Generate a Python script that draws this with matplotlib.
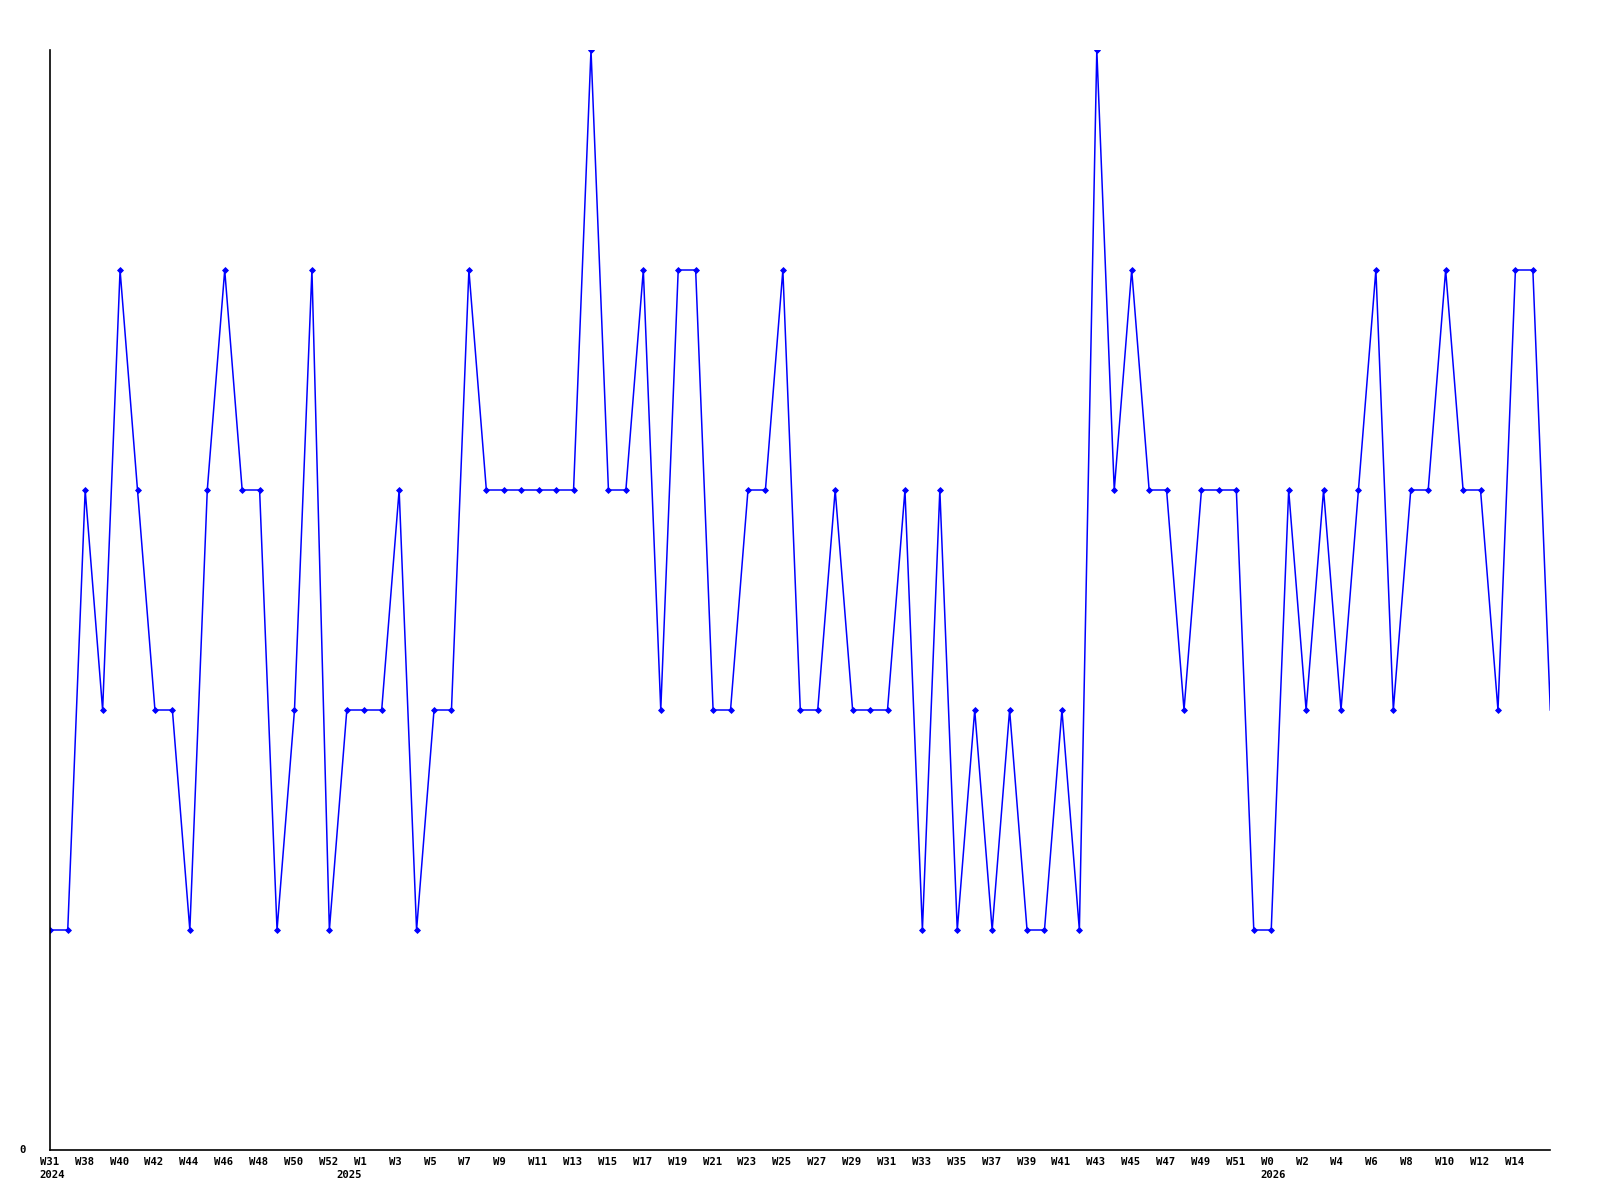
import matplotlib
matplotlib.use("Agg")
import matplotlib.pyplot as plt
import matplotlib.transforms as mtransforms
import numpy as np

# valeurs hebdomadaires (une par point)
valeurs = [1, 1, 3, 2, 4, 3, 2, 2, 1, 3,
           4, 3, 3, 1, 2, 4, 1, 2, 2, 2,
           3, 1, 2, 2, 4, 3, 3, 3, 3, 3,
           3, 5, 3, 3, 4, 2, 4, 4, 2, 2,
           3, 3, 4, 2, 2, 3, 2, 2, 2, 3,
           1, 3, 1, 2, 1, 2, 1, 1, 2, 1,
           5, 3, 4, 3, 3, 2, 3, 3, 3, 1,
           1, 3, 2, 3, 2, 3, 4, 2, 3, 3,
           4, 3, 3, 2, 4, 4, 2]

# etiquettes de l'axe des x (une semaine sur deux)
etiquettes = ["W31", "W38", "W40", "W42", "W44", "W46", "W48", "W50", "W52", "W1",
              "W3", "W5", "W7", "W9", "W11", "W13", "W15", "W17", "W19", "W21",
              "W23", "W25", "W27", "W29", "W31", "W33", "W35", "W37", "W39", "W41",
              "W43", "W45", "W47", "W49", "W51", "W0", "W2", "W4", "W6", "W8",
              "W10", "W12", "W14"]

annees = ["2024", "2025", "2026"]
idx_annees = [0, 17, 70]

x = np.arange(len(valeurs))
idx_etiquettes = x[::2][:len(etiquettes)]

fig = plt.figure(figsize=(16, 12), dpi=100)
ax = fig.add_axes([50.3 / 1600, 50 / 1200, 1500 / 1600, 1100 / 1200])

bleu = (0, 0, 1)
ax.plot(x, valeurs, color=bleu, linewidth=1.1)
# pas de marqueur sur le dernier point
ax.plot(x[:-1], valeurs[:-1], linestyle="none", marker="D", markersize=3.0,
        color=bleu, markeredgewidth=0.6)

ax.set_xlim(0, len(valeurs) - 1)
ax.set_ylim(0, 5)

for cote in ["top", "right"]:
    ax.spines[cote].set_visible(False)
ax.spines["left"].set_linewidth(1.2)
ax.spines["bottom"].set_linewidth(1.2)

ax.set_xticks([])
ax.set_yticks([])

police = dict(family="DejaVu Sans Mono", fontweight="bold", fontsize=7.7, color="black")

# texte aligne a gauche, decale d'environ 10 px vers la gauche du point
trans = mtransforms.blended_transform_factory(ax.transData, ax.transAxes)
trans = mtransforms.offset_copy(trans, fig=fig, x=-10.5, y=0, units="dots")
for p, e in zip(idx_etiquettes, etiquettes):
    ax.text(p, -0.0109, e, transform=trans, ha="left", va="center", **police)
for p, a in zip(idx_annees, annees):
    ax.text(p, -0.0227, a, transform=trans, ha="left", va="center", **police)

# le zero de l'axe des y
ax.text(-0.0162, 0, "0", transform=ax.transAxes, ha="right", va="center", **police)

fig.savefig("out.png", dpi=100, facecolor="white")
